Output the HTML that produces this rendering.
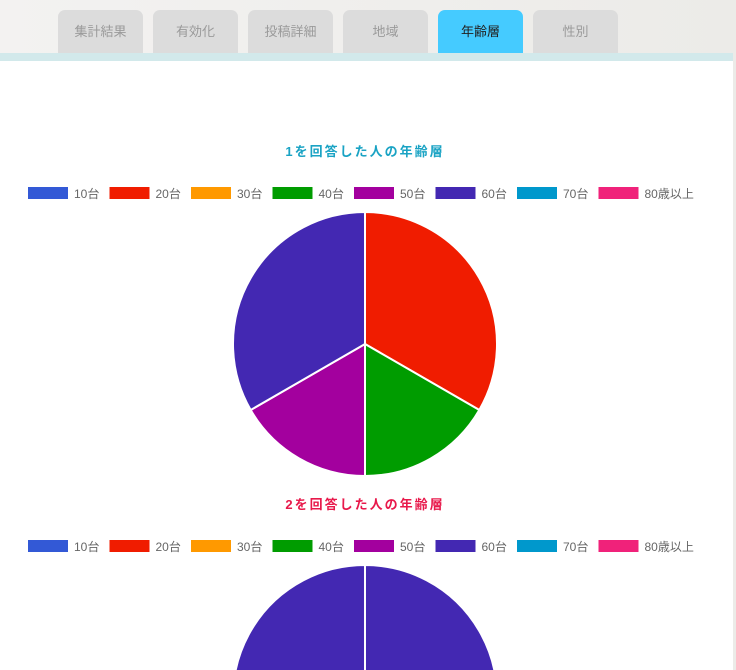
<!DOCTYPE html>
<html style="overflow:hidden;width:736px;height:670px"><head><meta charset="utf-8"><style>
body{margin:0;width:736px;height:670px;overflow:hidden;background:linear-gradient(90deg,#f3f2f1,#ecebe8);font-family:"Liberation Sans","Noto Sans CJK JP",sans-serif;position:relative}
.tab{position:absolute;top:10px;width:85px;height:43px;border-radius:7px 7px 0 0;background:#dcdcdc;color:#9a9a9a;font-size:13px;text-align:center;line-height:43px}
.tab.on{background:#45cbff;color:#222}
#band{position:absolute;left:0;top:53px;width:733px;height:8px;background:#d2e9eb}
#main{position:absolute;left:0;top:61px;width:733px;height:609px;background:#fff}
svg{position:absolute;left:0;top:0;display:block}
</style></head><body>
<div class="tab" style="left:58px">集計結果</div>
<div class="tab" style="left:153px">有効化</div>
<div class="tab" style="left:248px">投稿詳細</div>
<div class="tab" style="left:343px">地域</div>
<div class="tab on" style="left:438px">年齢層</div>
<div class="tab" style="left:533px">性別</div>
<div id="band"></div>
<div id="main"></div>
<svg id="chart" width="736" height="670"></svg>
<script>
const categories=["10台","20台","30台","40台","50台","60台","70台","80歳以上"];
const colors=["#3359d6","#f01c00","#ff9900","#009c00","#a3009e","#4328b2","#0098cc","#f0227a"];
const titles=["1を回答した人の年齢層","2を回答した人の年齢層"];
const titleColors=["#1aa3c4","#e8194b"];
const series1=[0,2,0,1,1,2,0,0];
const series2=[0,0,0,0,0,1,0,0];
const allSeries=[series1,series2];
const NS="http://www.w3.org/2000/svg";
const svg=document.getElementById('chart');
function mk(t,a){const e=document.createElementNS(NS,t);for(const k in a)e.setAttribute(k,a[k]);svg.appendChild(e);return e;}
const tops=[151,504],R=132,cx=365;
allSeries.forEach((data,ci)=>{
 const ty=tops[ci];
 const t=mk('text',{x:cx,y:ty+5,'text-anchor':'middle','font-size':13,'font-weight':'bold',fill:titleColors[ci],'letter-spacing':'2'});
 t.textContent=titles[ci];
 
 
 categories.forEach((c,i)=>{
  const lx=28+i*81.5, ly=ty+36;
  const r=mk('rect',{x:lx,y:ly,width:40,height:12,fill:colors[i]});
  
  
  const tx=mk('text',{x:lx+46,y:ly+11,'font-size':12,fill:'#666'});
  tx.textContent=c;
  
  
 });
 const cy=ty+193;
 const total=data.reduce((a,b)=>a+b,0);
 let a0=-Math.PI/2;
 data.forEach((v,i)=>{
  if(!v)return;
  const a1=a0+v/total*2*Math.PI;
  let d;
  if(v===total){d=`M${cx} ${cy} L${cx} ${cy-R} A${R} ${R} 0 1 1 ${cx-0.01} ${cy-R} Z`;}
  else{const large=(a1-a0)>Math.PI?1:0;
  d=`M${cx} ${cy} L${cx+R*Math.cos(a0)} ${cy+R*Math.sin(a0)} A${R} ${R} 0 ${large} 1 ${cx+R*Math.cos(a1)} ${cy+R*Math.sin(a1)} Z`;}
  const p=mk('path',{d:d,fill:colors[i],stroke:'#fff','stroke-width':2});
  
  
  a0=a1;
 });
});
</script>
</body></html>
